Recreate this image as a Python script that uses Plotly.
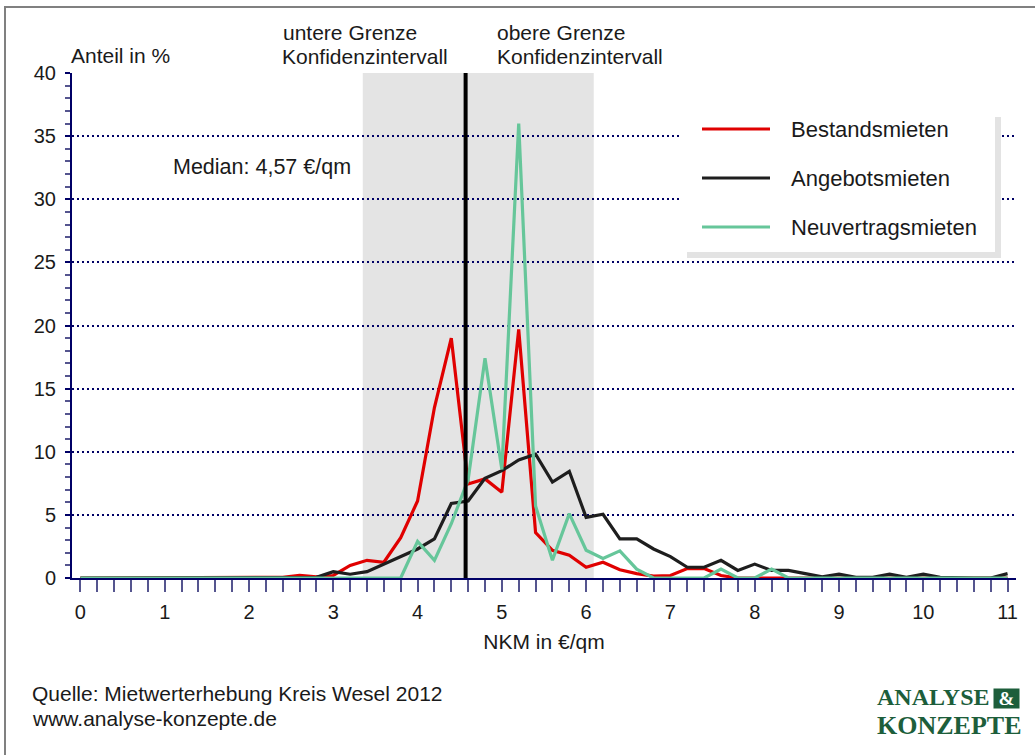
import plotly.graph_objects as go

# ---------------- data ----------------
NKM = [0.0, 0.2, 0.4, 0.6, 0.8, 1.0, 1.2, 1.4, 1.6, 1.8,
       2.0, 2.2, 2.4, 2.6, 2.8, 3.0, 3.2, 3.4, 3.6, 3.8,
       4.0, 4.2, 4.4, 4.6, 4.8, 5.0, 5.2, 5.4, 5.6, 5.8,
       6.0, 6.2, 6.4, 6.6, 6.8, 7.0, 7.2, 7.4, 7.6, 7.8,
       8.0, 8.2, 8.4, 8.6, 8.8, 9.0, 9.2, 9.4, 9.6, 9.8,
       10.0, 10.2, 10.4, 10.6, 10.8, 11.0]

bestandsmieten = [0, 0, 0, 0, 0, 0, 0, 0, 0, 0,
                  0, 0, 0.05, 0.2, 0.1, 0.2, 1.0, 1.4, 1.25, 3.2,
                  6.1, 13.5, 19.0, 7.45, 7.85, 6.8, 19.7, 3.6, 2.2, 1.8,
                  0.85, 1.25, 0.65, 0.35, 0.15, 0.2, 0.75, 0.75, 0.2, 0,
                  0, 0.05, 0, 0, 0, 0, 0, 0, 0, 0,
                  0, 0, 0, 0, 0, 0]

angebotsmieten = [0, 0, 0, 0, 0, 0, 0, 0, 0, 0,
                  0, 0, 0, 0, 0.05, 0.5, 0.3, 0.5, 1.1, 1.7,
                  2.3, 3.1, 5.9, 6.1, 7.9, 8.5, 9.35, 9.8, 7.6, 8.45,
                  4.8, 5.05, 3.1, 3.1, 2.3, 1.7, 0.85, 0.85, 1.4, 0.6,
                  1.1, 0.6, 0.6, 0.35, 0.1, 0.3, 0.05, 0.05, 0.3, 0.05,
                  0.3, 0.05, 0, 0, 0, 0.35]

neuvertragsmieten = [0, 0, 0, 0, 0, 0, 0, 0, 0, 0,
                     0, 0, 0, 0, 0, 0, 0, 0, 0, 0,
                     2.9, 1.4, 4.3, 7.8, 17.4, 8.6, 36.0, 5.7, 1.4, 5.1,
                     2.2, 1.55, 2.15, 0.7, 0, 0, 0, 0, 0.7, 0,
                     0, 0.7, 0, 0, 0, 0, 0, 0, 0, 0,
                     0, 0, 0, 0, 0, 0]

SERIES_NAMES = ["Bestandsmieten", "Angebotsmieten", "Neuvertragsmieten"]
SERIES_VALUES = [bestandsmieten, angebotsmieten, neuvertragsmieten]
SERIES_COLORS = ["#e00000", "#1e1e1e", "#66c69a"]

MEDIAN = 4.57
CI_LOWER = 3.35
CI_UPPER = 6.09

X_TICKS = [0, 1, 2, 3, 4, 5, 6, 7, 8, 9, 10, 11]
Y_TICKS = [0, 5, 10, 15, 20, 25, 30, 35, 40]

# ---------------- layout geometry ----------------
W, H = 1035, 755
L, R, T, B = 72, 19, 73, 177
PW, PH = W - L - R, H - T - B


def px_x(p):
    return (p - L) / PW


def px_y(p):
    return (H - B - p) / PH


FONT = "Liberation Sans, Arial, sans-serif"
SERIF = "Liberation Serif, Times New Roman, serif"
TXT = "#1a1a1a"
NAVY = "#000066"
GREEN_LOGO = "#1d5e3b"

fig = go.Figure()

for name, vals, col in zip(SERIES_NAMES, SERIES_VALUES, SERIES_COLORS):
    fig.add_trace(go.Scatter(x=NKM, y=vals, mode="lines", name=name,
                             line=dict(color=col, width=3.2),
                             showlegend=False))

shapes = []
# confidence interval band
shapes.append(dict(type="rect", xref="x", yref="y", x0=CI_LOWER, x1=CI_UPPER,
                   y0=0, y1=40, fillcolor="#e4e4e4", line=dict(width=0),
                   layer="below"))
# median line
shapes.append(dict(type="line", xref="x", yref="y", x0=MEDIAN, x1=MEDIAN,
                   y0=0, y1=40, line=dict(color="#000000", width=4),
                   layer="above"))
# legend box with shadow
shapes.append(dict(type="rect", xref="paper", yref="paper",
                   x0=px_x(687), x1=px_x(1001), y0=px_y(117), y1=px_y(258),
                   fillcolor="#e3e3e3", line=dict(width=0), layer="above"))
shapes.append(dict(type="rect", xref="paper", yref="paper",
                   x0=px_x(681), x1=px_x(995), y0=px_y(111), y1=px_y(252),
                   fillcolor="#ffffff", line=dict(width=0), layer="above"))
legend_rows = [129, 178, 227]
for yy, col in zip(legend_rows, SERIES_COLORS):
    shapes.append(dict(type="line", xref="paper", yref="paper",
                       x0=px_x(702), x1=px_x(770), y0=px_y(yy), y1=px_y(yy),
                       line=dict(color=col, width=3), layer="above"))
# outer frame
shapes.append(dict(type="rect", xref="paper", yref="paper",
                   x0=px_x(5), x1=px_x(1045), y0=px_y(7), y1=px_y(770),
                   line=dict(color="#808080", width=2), fillcolor="rgba(0,0,0,0)",
                   layer="above"))

annotations = []


def txt(text, x, y, size=21, color=TXT, family=FONT, **kw):
    annotations.append(dict(text=text, x=px_x(x), y=px_y(y), xref="paper",
                            yref="paper", xanchor=kw.pop("xanchor", "left"),
                            yanchor="middle", showarrow=False,
                            font=dict(size=size, color=color, family=family),
                            **kw))


txt("Anteil in %", 69, 56)
txt("untere Grenze", 281, 33)
txt("Konfidenzintervall", 280, 57)
txt("obere Grenze", 495, 33)
txt("Konfidenzintervall", 495, 57)
median_label = "Median: " + f"{MEDIAN:.2f}".replace(".", ",") + " €/qm"
txt(median_label, 171, 167, size=21.5)
for yy, name in zip(legend_rows, SERIES_NAMES):
    txt(name, 789, yy, size=22)
txt("Quelle: Mietwerterhebung Kreis Wesel 2012", 30, 693)
txt("www.analyse-konzepte.de", 30, 718)
# logo
txt("<b>ANALYSE</b>", 875, 697, size=24, color=GREEN_LOGO, family=SERIF)
txt("<b>KONZEPTE</b>", 875, 725, size=26, color=GREEN_LOGO, family=SERIF)
annotations.append(dict(text="<b>&</b>", x=px_x(1006.5), y=px_y(698),
                        xref="paper", yref="paper", xanchor="center",
                        yanchor="middle", showarrow=False, width=25, height=19,
                        bgcolor=GREEN_LOGO, borderpad=0,
                        font=dict(size=19, color="#ffffff", family=SERIF)))

fig.update_layout(
    width=W, height=H,
    margin=dict(l=L, r=R, t=T, b=B, pad=0),
    paper_bgcolor="#ffffff", plot_bgcolor="#ffffff",
    font=dict(family=FONT, size=20, color=TXT),
    shapes=shapes, annotations=annotations,
    showlegend=False,
)

fig.update_xaxes(
    range=[-0.1, 11.1], tickmode="array", tickvals=X_TICKS,
    ticktext=[str(v) for v in X_TICKS],
    ticks="outside", ticklen=12, tickwidth=1.5, tickcolor="#55558f",
    minor=dict(dtick=0.2, tick0=0, ticks="outside", ticklen=12, tickwidth=1.5,
               tickcolor="#55558f", showgrid=False),
    showline=True, linecolor=NAVY, linewidth=2,
    showgrid=False, zeroline=False, layer="below traces",
    tickfont=dict(size=20, color=TXT, family=FONT),
    ticklabelstandoff=3,
    title=dict(text="NKM in €/qm", font=dict(size=21, color=TXT, family=FONT),
               standoff=12),
)

fig.update_yaxes(
    range=[0, 40], tickmode="array", tickvals=Y_TICKS,
    ticktext=[str(v) for v in Y_TICKS],
    ticks="outside", ticklen=5, tickwidth=2, tickcolor=NAVY,
    minor=dict(dtick=1, tick0=0, ticks="outside", ticklen=5, tickwidth=2,
               tickcolor="#55558f", showgrid=False),
    showline=True, linecolor=NAVY, linewidth=2,
    showgrid=True, gridcolor=NAVY, gridwidth=2, griddash="2px,3px",
    zeroline=False, layer="below traces",
    tickfont=dict(size=20, color=TXT, family=FONT),
    ticklabelstandoff=5,
)

fig.write_html("out.html",
               config={"displayModeBar": False},
               post_script="document.body.style.margin='0';")
